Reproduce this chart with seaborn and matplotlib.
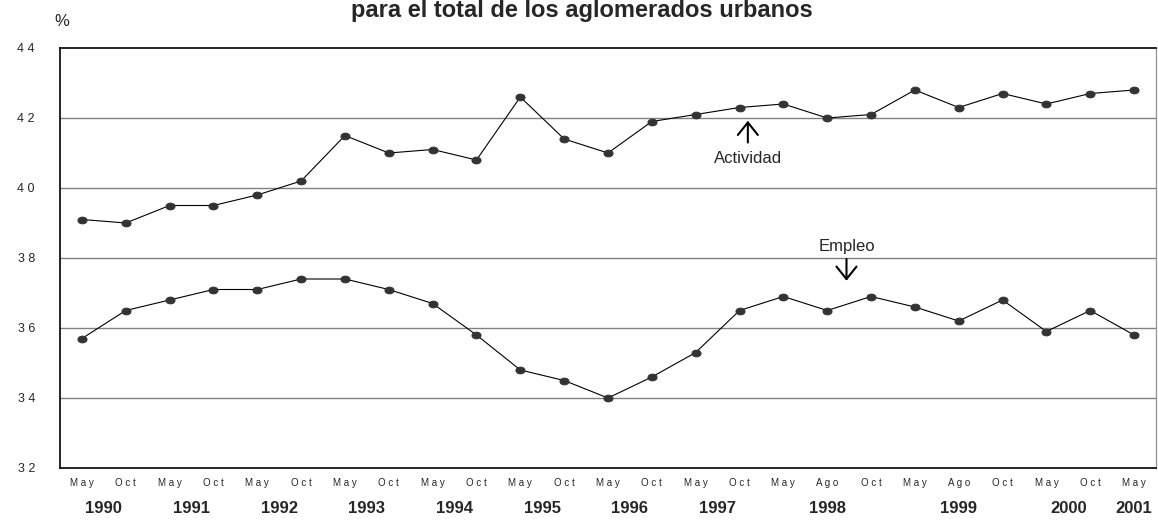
import matplotlib
matplotlib.use("Agg")
import matplotlib.pyplot as plt
import matplotlib.transforms as mtransforms
from matplotlib.path import Path
import seaborn as sns
import pandas as pd
import numpy as np

months = ["May", "Oct", "May", "Oct", "May", "Oct", "May", "Oct", "May", "Oct",
          "May", "Oct", "May", "Oct", "May", "Oct", "May", "Ago", "Oct", "May",
          "Ago", "Oct", "May", "Oct", "May"]
years = ["1990", "1990", "1991", "1991", "1992", "1992", "1993", "1993", "1994", "1994",
         "1995", "1995", "1996", "1996", "1997", "1997", "1998", "1998", "1998", "1999",
         "1999", "1999", "2000", "2000", "2001"]
actividad = [39.1, 39.0, 39.5, 39.5, 39.8, 40.2, 41.5, 41.0, 41.1, 40.8,
             42.6, 41.4, 41.0, 41.9, 42.1, 42.3, 42.4, 42.0, 42.1, 42.8,
             42.3, 42.7, 42.4, 42.7, 42.8]
empleo = [35.7, 36.5, 36.8, 37.1, 37.1, 37.4, 37.4, 37.1, 36.7, 35.8,
          34.8, 34.5, 34.0, 34.6, 35.3, 36.5, 36.9, 36.5, 36.9, 36.6,
          36.2, 36.8, 35.9, 36.5, 35.8]
y_ticks = [32, 34, 36, 38, 40, 42, 44]

sns.set_theme(style="white")
plt.rcParams['font.family'] = ['Liberation Sans', 'DejaVu Sans']

idx = list(range(len(months)))
df = pd.DataFrame({
    "idx": idx * 2,
    "valor": actividad + empleo,
    "serie": ["Actividad"] * len(idx) + ["Empleo"] * len(idx),
})

# slightly flattened ellipse marker (Excel style)
uc = Path.unit_circle()
ellipse = Path(uc.vertices * np.array([1.35, 1.0]), uc.codes)

fig = plt.figure(figsize=(11.58, 5.2), dpi=100)
ax = fig.add_axes([60 / 1158, 1 - 468 / 520, 1096 / 1158, 420 / 520])

for s in ["Actividad", "Empleo"]:
    sub = df[df["serie"] == s]
    sns.lineplot(data=sub, x="idx", y="valor", ax=ax, color="black", lw=0.8,
                 marker=ellipse, markersize=6.5, markerfacecolor="#333333",
                 markeredgecolor="#333333", legend=False, zorder=3)

ax.set_xlim(-0.5, len(months) - 0.5)
ax.set_ylim(32, 44)
ax.set_yticks(y_ticks)
ax.set_yticklabels([" ".join(str(v)) for v in y_ticks], fontsize=9)
for v in y_ticks[1:-1]:
    ax.axhline(v, color="#808080", lw=1.0, zorder=1)

ax.set_xticks(idx)
ax.set_xticklabels([" ".join(m) for m in months], fontsize=7)
ax.set_xticks(np.arange(-0.5, len(months)), minor=True)
ax.tick_params(axis="x", which="major", length=0, pad=7)
ax.tick_params(axis="x", which="minor", length=4, width=0.8, color="#444444", direction="out")
ax.tick_params(axis="y", which="major", length=11, width=0.8, color="#444444", direction="out", pad=7)
ax.set_xlabel("")
ax.set_ylabel("")

for side in ["left", "bottom", "top"]:
    ax.spines[side].set_color("black")
    ax.spines[side].set_linewidth(1.2)
ax.spines["right"].set_color("#999999")
ax.spines["right"].set_linewidth(1.0)

# year labels centered under their months
trans = mtransforms.blended_transform_factory(ax.transData, ax.transAxes)
uniq = []
for y in years:
    if y not in uniq:
        uniq.append(y)
for y in uniq:
    pos = [i for i, yy in enumerate(years) if yy == y]
    ax.text(np.mean(pos), -0.0976, y, transform=trans, ha="center", va="center",
            fontsize=12, fontweight="bold")

arrow_style = "->,head_length=0.45,head_width=0.36"
ax.annotate("", xy=(15.19, 41.92), xytext=(15.19, 41.30),
            arrowprops=dict(arrowstyle=arrow_style, lw=1.5, color="black",
                            mutation_scale=20, shrinkA=0, shrinkB=0))
ax.text(15.19, 40.83, "Actividad", ha="center", va="center", fontsize=12)
ax.annotate("", xy=(17.44, 37.35), xytext=(17.44, 37.97),
            arrowprops=dict(arrowstyle=arrow_style, lw=1.5, color="black",
                            mutation_scale=20, shrinkA=0, shrinkB=0))
ax.text(17.44, 38.34, "Empleo", ha="center", va="center", fontsize=12)

fig.text(582 / 1158, 1 - 17 / 520, "para el total de los aglomerados urbanos",
         ha="center", va="baseline", fontsize=17, fontweight="bold")
fig.text(62 / 1158, 1 - 21 / 520, "%", ha="center", va="center", fontsize=12)

fig.savefig("out.png", dpi=100)
